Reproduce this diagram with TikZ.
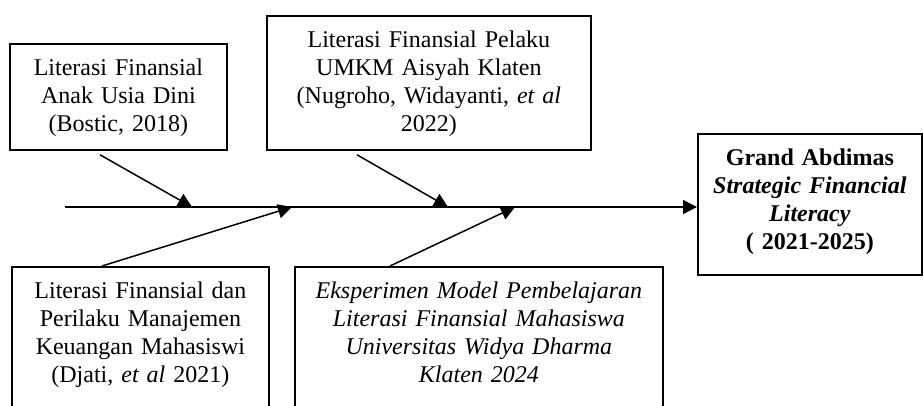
\documentclass[tikz,border=0pt]{standalone}
\usepackage{fontspec}
\setmainfont{Liberation Serif}
\usetikzlibrary{arrows.meta}

\begin{document}
\begin{tikzpicture}[x=0.5pt, y=-0.5pt, >={Triangle[length=7pt, width=7pt]},
    box/.style={draw, line width=0.9pt, anchor=north west, align=center,
        inner xsep=4pt, inner ysep=6pt, text height=10pt,
        font=\fontsize{12}{14}\selectfont},
    bone/.style={->, line width=0.75pt}]
    \useasboundingbox (0,0) rectangle (923,406);
    \clip (0,0) rectangle (923,406);

    \node[box, text width=100.5pt, text depth=31pt] (anak) at (9,43)
        {Literasi Finansial\\Anak Usia Dini\\(Bostic, 2018)};
    \node[box, text width=154pt, text depth=45pt] (umkm) at (266,15)
        {Literasi Finansial Pelaku\\UMKM Aisyah Klaten\\(Nugroho, Widayanti, \textit{et al}\\2022)};
    \node[box, text width=120.5pt, text depth=90pt] (mahasiswi) at (11,266)
        {Literasi Finansial dan\\Perilaku Manajemen\\Keuangan Mahasiswi\\(Djati, \textit{et al} 2021)};
    \node[box, text width=176pt, text depth=90pt, font=\fontsize{12}{14}\selectfont\itshape] (eksperimen) at (294,266)
        {Eksperimen Model Pembelajaran\\Literasi Finansial Mahasiswa\\Universitas Widya Dharma\\Klaten 2024};
    \node[box, text width=104pt, text depth=48.5pt, font=\fontsize{12}{14}\selectfont\bfseries] (abdimas) at (697,133)
        {Grand Abdimas\\\textit{Strategic Financial}\\\textit{Literacy}\\( 2021-2025)};

    % spine
    \coordinate (tail) at (65,207);
    \coordinate (j1) at (192,207);
    \coordinate (j2) at (448,207);
    \coordinate (j3) at (292,207);
    \coordinate (j4) at (515,207);
    \draw[bone] (tail) -- (tail -| abdimas.west);

    \path[bone]
        ([xshift=45.5pt, yshift=-2pt]anak.south west) edge (j1)
        ([xshift=45.5pt, yshift=-2pt]umkm.south west) edge (j2)
        ([xshift=45.5pt]mahasiswi.north west) edge (j3)
        ([xshift=48pt]eksperimen.north west) edge (j4);
\end{tikzpicture}
\end{document}
